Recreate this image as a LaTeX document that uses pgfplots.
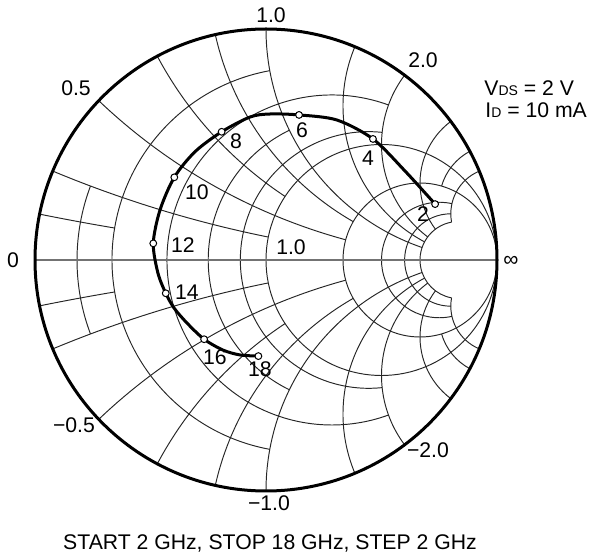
\documentclass[border=0pt]{standalone}
\usepackage{pgfplots}
\pgfplotsset{compat=1.18}
\usepackage{fontspec}
\setmainfont{Liberation Sans}
\newcommand{\lbl}{\fontsize{10.6bp}{12bp}\selectfont}
\newcommand{\sub}[1]{{\fontsize{7bp}{8bp}\selectfont #1}}
\begin{document}
\begin{tikzpicture}
\useasboundingbox (0bp,0bp) rectangle (300bp,280bp);
% ---------- Smith chart grid (chart centre at (133bp,150bp), radius 115.5bp) ----------
\begin{scope}[shift={(133bp,150bp)}]
\def\R{115.5}
\tikzset{gl/.style={black!85, line width=0.48bp}}
% partial constant-resistance circles  r / |x| limit
\foreach \r/\X in {0.1/0.2, 0.2/1, 0.4/2, 0.6/1, 0.8/2, 3/5, 4/5, 5/5}{
  \pgfmathsetmacro\cx{\R*\r/(\r+1)}
  \pgfmathsetmacro\rad{\R/(\r+1)}
  \pgfmathsetmacro\sa{180-2*atan(\X/(\r+1))}
  \pgfmathsetmacro\ea{180+2*atan(\X/(\r+1))}
  \draw[gl] ([shift={(\cx bp,0bp)}]\sa:\rad bp) arc[start angle=\sa, end angle=\ea, radius=\rad bp];
}
% full constant-resistance circles
\foreach \r in {1,2}{
  \pgfmathsetmacro\cx{\R*\r/(\r+1)}
  \pgfmathsetmacro\rad{\R/(\r+1)}
  \draw[gl] (\cx bp,0bp) circle[radius=\rad bp];
}
% constant-reactance arcs  x / r limit
\foreach \x/\Rs in {0.1/0.2, 0.2/1, 0.4/2, 0.6/1, 0.8/2, 1/5, 1.5/5, 2/5, 3/5, 4/2, 5/5}{
  \pgfmathsetmacro\cy{\R/\x}
  \pgfmathsetmacro\sa{-90-2*atan(\x)}
  \pgfmathsetmacro\ea{-90-2*atan(\x/(\Rs+1))}
  \draw[gl] ([shift={(\R bp,\cy bp)}]\sa:\cy bp) arc[start angle=\sa, end angle=\ea, radius=\cy bp];
  \pgfmathsetmacro\sb{90+2*atan(\x)}
  \pgfmathsetmacro\eb{90+2*atan(\x/(\Rs+1))}
  \draw[gl] ([shift={(\R bp,-\cy bp)}]\sb:\cy bp) arc[start angle=\sb, end angle=\eb, radius=\cy bp];
}
\draw[black!55, line width=0.65bp] (-\R bp,0bp) -- (\R bp,0bp);
\draw[black, line width=1.5bp] (0bp,0bp) circle[radius=\R bp];
\end{scope}
% ---------- data (reflection coefficient) ----------
\begin{axis}[
  at={(133bp,150bp)}, anchor=center,
  scale only axis, width=231bp, height=231bp,
  xmin=-1, xmax=1, ymin=-1, ymax=1,
  hide axis, clip=false,
]
\addplot[black, line width=1.5bp, smooth, no markers] coordinates {
(0.732,0.242) (0.602,0.385) (0.463,0.524) (0.307,0.606) (0.143,0.628)
(0.017,0.632) (-0.069,0.619) (-0.192,0.555) (-0.307,0.469) (-0.397,0.358)
(-0.459,0.216) (-0.488,0.072) (-0.468,-0.056) (-0.434,-0.144) (-0.398,-0.208)
(-0.342,-0.273) (-0.268,-0.343) (-0.186,-0.390) (-0.113,-0.411) (-0.033,-0.416)
};
\addplot[only marks, mark=*, mark size=1.7bp, mark options={fill=white, draw=black, line width=0.5bp}] coordinates {
(0.732,0.242) (0.463,0.524) (0.143,0.628) (-0.192,0.555) (-0.397,0.358)
(-0.488,0.072) (-0.434,-0.144) (-0.268,-0.343) (-0.033,-0.416)
};
\end{axis}
% ---------- labels (pixel coordinates, y measured from bottom) ----------
\begin{scope}[x=0.5bp, y=0.5bp, every node/.style={font=\lbl, inner sep=0pt}]
\node at (13,300) {0};
\node at (511,299) {\char"221E};
\node at (291,313) {1.0};
\node at (271,545) {1.0};
\node at (76,472) {0.5};
\node at (423,500) {2.0};
\node at (74,135) {\char"2212 0.5};
\node at (269,57) {\char"2212 1.0};
\node at (428,110) {\char"2212 2.0};
\node at (423,346) {2};
\node at (368,402) {4};
\node at (302,430) {6};
\node at (236,419) {8};
\node at (197,368) {10};
\node at (183,315) {12};
\node at (187,268) {14};
\node at (215,203) {16};
\node at (260,191) {18};
\node[anchor=west] at (484,472) {V\sub{DS} = 2 V};
\node[anchor=west] at (485,450) {I\sub{D} = 10 mA};
\node at (270,17) {START 2 GHz, STOP 18 GHz, STEP 2 GHz};
\end{scope}
\end{tikzpicture}
\end{document}
